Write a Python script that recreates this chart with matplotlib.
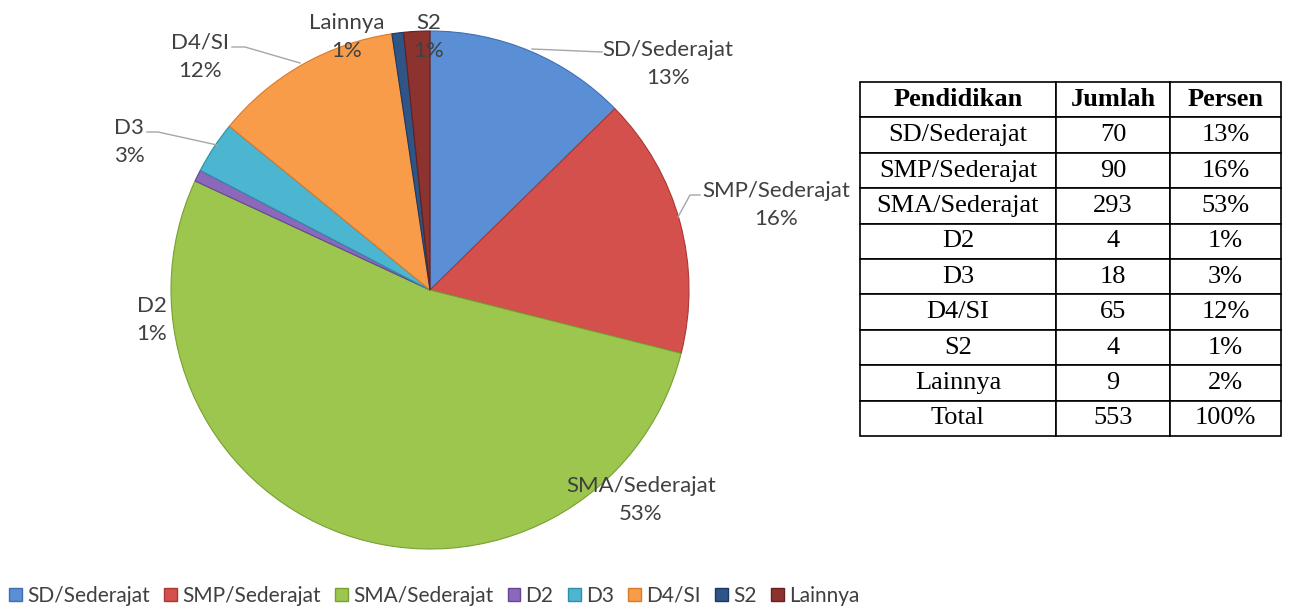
import numpy as np
import matplotlib
matplotlib.use("Agg")
import matplotlib.pyplot as plt
from matplotlib.patches import Patch

# data
kategori = ["SD/Sederajat", "SMP/Sederajat", "SMA/Sederajat", "D2", "D3", "D4/SI", "S2", "Lainnya"]
jumlah = [70, 90, 293, 4, 18, 65, 4, 9]
persen_tabel = ["13%", "16%", "53%", "1%", "3%", "12%", "1%", "2%"]
label_pie = ["SD/Sederajat\n13%", "SMP/Sederajat\n16%", "SMA/Sederajat\n53%", "D2\n1%",
             "D3\n3%", "D4/SI\n12%", "Lainnya\n1%", "S2\n1%"]
kolom = ["Pendidikan", "Jumlah", "Persen"]
total = ["Total", "553", "100%"]

warna = ["#5A8FD6", "#D4504C", "#9CC64E", "#8B68BC", "#4CB6D0", "#F99C4A", "#2F5486", "#8C3330"]
tepi = ["#3F6FB0", "#A83835", "#78A032", "#634795", "#2E8EA8", "#D97A2A", "#1D3960", "#66201E"]

R = 259.0  # jari-jari pie dalam piksel, pusat (430, 290)


def px(x, y):
    # piksel gambar -> satuan pie
    return ((x - 430) / R, (290 - y) / R)


# posisi label (piksel) dan garis penunjuk
pos_label = [px(668, 64), px(776, 205), px(641, 500), px(152, 320),
             px(129, 142), px(200, 57), px(347, 37), px(429, 37)]
garis = [
    [px(532, 49), px(602, 52)],
    [px(678, 217), px(690, 195), px(700, 195)],
    [px(147, 132), px(158, 132), px(217, 145)],
    [px(232, 47), px(245, 47), px(300, 63)],
]

plt.rcParams['font.family'] = ['Lato', 'DejaVu Sans']
fig = plt.figure(figsize=(12.96, 6.10), dpi=100)

# pie: axes 0..860 px, 0..575 px dari atas
ax = fig.add_axes([0, 35 / 610, 860 / 1296, 575 / 610])
ax.pie(jumlah, colors=warna, startangle=90, counterclock=False, radius=1)
for w, e in zip(ax.patches, tepi):
    w.set_edgecolor(e)
    w.set_linewidth(0.8)
ax.set_xlim(-430 / R, 430 / R)
ax.set_ylim(-285 / R, 290 / R)
ax.set_aspect("auto")
ax.axis("off")

for teks, (x, y) in zip(label_pie, pos_label):
    ax.text(x, y, teks, ha="center", va="center", fontsize=16, color="#404040",
            linespacing=1.55)
for pts in garis:
    xs, ys = zip(*pts)
    ax.plot(xs, ys, color="#A6A6A6", lw=1.0)

# legend
handles = [Patch(facecolor=c, edgecolor=e, label=k) for c, e, k in zip(warna, tepi, kategori)]
fig.legend(handles=handles, loc="center left", bbox_to_anchor=(0.0, 1 - 596 / 610), ncol=8,
           frameon=False, fontsize=15, handlelength=0.6, handleheight=0.6, borderpad=0,
           handletextpad=0.25, columnspacing=0.7, labelcolor="#404040", borderaxespad=0.45)

# tabel
tx = fig.add_axes([860 / 1296, (610 - 436) / 610, 421 / 1296, 354 / 610])
tx.axis("off")
isi = [[k, str(j), p] for k, j, p in zip(kategori, jumlah, persen_tabel)] + [total]
tab = tx.table(cellText=isi, colLabels=kolom, bbox=[0, 0, 1, 1],
               colWidths=[196 / 421, 114 / 421, 111 / 421], cellLoc="center")
tab.auto_set_font_size(False)
for (r, c), cell in tab.get_celld().items():
    cell.set_linewidth(1.2)
    cell.set_edgecolor("black")
    cell.get_text().set_fontfamily("Liberation Serif")
    cell.get_text().set_fontsize(19)
    if r == 0:
        cell.get_text().set_fontweight("bold")

fig.savefig("out.png", dpi=100)
